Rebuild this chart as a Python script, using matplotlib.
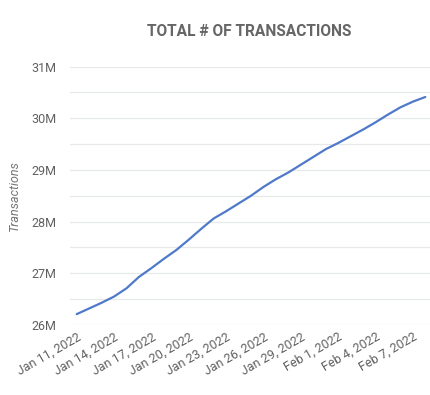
import matplotlib
matplotlib.use("Agg")
import matplotlib.pyplot as plt
import matplotlib.dates as mdates
import matplotlib.ticker as mticker
import numpy as np
import pandas as pd

# Data
dates = pd.date_range("2022-01-11", "2022-02-08", freq="D")
transactions_m = [26.21, 26.32, 26.43, 26.55, 26.71, 26.93, 27.10, 27.28, 27.45, 27.65,
                  27.86, 28.06, 28.20, 28.35, 28.50, 28.67, 28.82, 28.95, 29.10, 29.25,
                  29.40, 29.52, 29.65, 29.78, 29.92, 30.07, 30.21, 30.32, 30.41]
tick_dates = pd.date_range("2022-01-11", "2022-02-07", freq="3D")
y_ticks_m = [26, 27, 28, 29, 30, 31]
title = "TOTAL # OF TRANSACTIONS"
y_label = "Transactions"

plt.rcParams['font.family'] = ['Roboto', 'DejaVu Sans']

W, H = 431, 395
fig = plt.figure(figsize=(W / 100, H / 100), dpi=100)
ax_left, ax_right = 70 / W, 430 / W
ax_bottom, ax_top = 1 - 325 / H, 1 - 66.5 / H
ax = fig.add_axes([ax_left, ax_bottom, ax_right - ax_left, ax_top - ax_bottom])

values = np.array(transactions_m) * 1e6
ax.plot(dates, values, color='#4f79c9', lw=1.6, solid_capstyle='round')

# x limits so that Jan 11 -> px 76.7 and 12.45 px/day
x0 = mdates.date2num(pd.Timestamp("2022-01-11"))
ppd = 12.45
ax.set_xlim(x0 + (70 - 76.7) / ppd, x0 + (430 - 76.7) / ppd)
ax.set_ylim(26e6, 31e6)

ax.set_yticks([v * 1e6 for v in y_ticks_m])
ax.set_yticklabels([f"{v}M" for v in y_ticks_m])
ax.yaxis.set_minor_locator(mticker.MultipleLocator(0.5e6))
ax.grid(True, which='both', axis='y', color='#e6e8ea', lw=0.9)
ax.set_axisbelow(True)

ax.set_xticks(tick_dates)
ax.set_xticklabels([f"{d.strftime('%b')} {d.day}, {d.year}" for d in tick_dates],
                   rotation=30, ha='right', va='top', rotation_mode='anchor')

for s in ax.spines.values():
    s.set_visible(False)
ax.tick_params(axis='both', which='both', length=0, colors='#616161', labelsize=9)
ax.tick_params(axis='y', pad=10)
ax.tick_params(axis='x', pad=4)

ax.set_ylabel(y_label, fontsize=9, fontstyle='italic', color='#757575', labelpad=7)
fig.text(249 / W, 1 - 31.5 / H, title, ha='center', va='center', fontsize=11.2,
         fontweight='bold', color='#666666')

fig.savefig("out.png", dpi=100)
